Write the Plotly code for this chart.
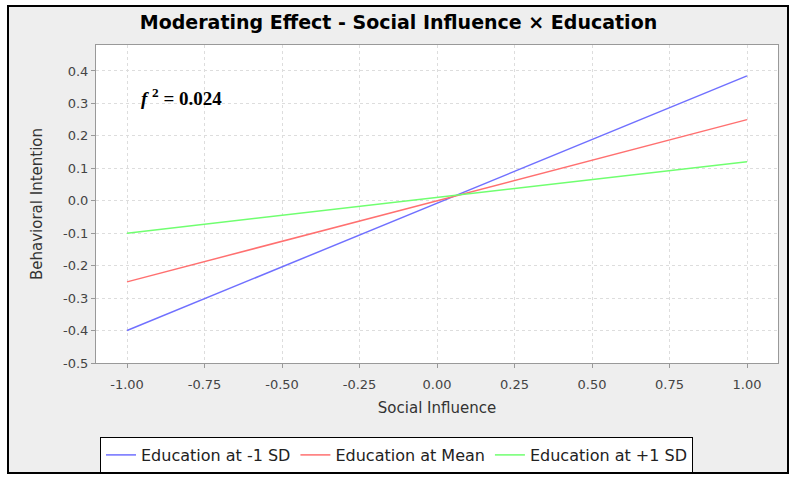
import plotly.graph_objects as go

x_vals = [-1.0, 1.0]
low_sd = [-0.40, 0.385]
mean_vals = [-0.25, 0.25]
high_sd = [-0.10, 0.12]
series_names = ["Education at -1 SD", "Education at Mean", "Education at +1 SD"]
colors = ["#7070FF", "#FF7070", "#70FF70"]

x_tickvals = [-1.0, -0.75, -0.5, -0.25, 0.0, 0.25, 0.5, 0.75, 1.0]
x_ticktext = ["-1.00", "-0.75", "-0.50", "-0.25", "0.00", "0.25", "0.50", "0.75", "1.00"]
y_tickvals = [-0.5, -0.4, -0.3, -0.2, -0.1, 0.0, 0.1, 0.2, 0.3, 0.4]
y_ticktext = ["-0.5", "-0.4", "-0.3", "-0.2", "-0.1", "0.0", "0.1", "0.2", "0.3", "0.4"]

W, H = 797, 478
L, R, T, B = 96, 778, 45, 363
pw, ph = R - L, B - T

def px(xp):
    return (xp - L) / pw

def py(yp):
    return (B - yp) / ph

FONT = "DejaVu Sans, Verdana, sans-serif"

fig = go.Figure()
for name, ys, c in zip(series_names, [low_sd, mean_vals, high_sd], colors):
    fig.add_trace(go.Scatter(x=x_vals, y=ys, mode="lines", name=name,
                             line=dict(color=c, width=1.5)))

axis_common = dict(showgrid=True, gridcolor="#DDDDDD", griddash="3px,3px", gridwidth=1,
                   showline=True, linecolor="#999999", linewidth=1, mirror=True,
                   ticks="outside", ticklen=4, tickcolor="#999999",
                   tickfont=dict(family=FONT, size=13, color="#444444"),
                   zeroline=False)

fig.update_xaxes(range=[-1.1, 1.1], tickmode="array", tickvals=x_tickvals, ticktext=x_ticktext,
                 ticklabelstandoff=5,
                 title=dict(text="Social Influence", standoff=11,
                            font=dict(family=FONT, size=15, color="#333333")),
                 **axis_common)
fig.update_yaxes(range=[-0.5, 0.48], tickmode="array", tickvals=y_tickvals, ticktext=y_ticktext,
                 title=dict(text="Behavioral Intention", standoff=16,
                            font=dict(family=FONT, size=15, color="#333333")),
                 **axis_common)

# outer gray panel with black border
fig.add_shape(type="rect", xref="paper", yref="paper", layer="below",
              x0=px(8), x1=px(788), y0=py(473), y1=py(6),
              fillcolor="#EEEEEE", line=dict(color="black", width=2))
# white plot area
fig.add_shape(type="rect", xref="paper", yref="paper", layer="below",
              x0=0, x1=1, y0=0, y1=1, fillcolor="white", line=dict(width=0))

fig.add_annotation(x=-0.96, y=0.32, xref="x", yref="y", xanchor="left", yanchor="middle",
                   text="<b><i>f</i> <sup>2</sup> = 0.024</b>", showarrow=False,
                   font=dict(family="Liberation Serif, Times New Roman", size=19, color="black"))

fig.update_layout(
    width=W, height=H,
    margin=dict(l=L, r=W - R, t=T, b=H - B, autoexpand=False),
    paper_bgcolor="white", plot_bgcolor="white",
    title=dict(text="<b>Moderating Effect - Social Influence × Education</b>",
               x=0.5, xanchor="center", y=1 - 22 / H, yanchor="middle",
               font=dict(family=FONT, size=19, color="black")),
    legend=dict(orientation="h", x=px(100), y=py(473), xanchor="left", yanchor="bottom",
                bgcolor="white", bordercolor="black", borderwidth=1,
                font=dict(family=FONT, size=16, color="#222222"),
                itemwidth=30, tracegroupgap=0),
    showlegend=True,
)

fig.write_html("out.html", config={"displayModeBar": False},
               post_script="document.body.style.margin='0';document.body.style.overflow='hidden';")
